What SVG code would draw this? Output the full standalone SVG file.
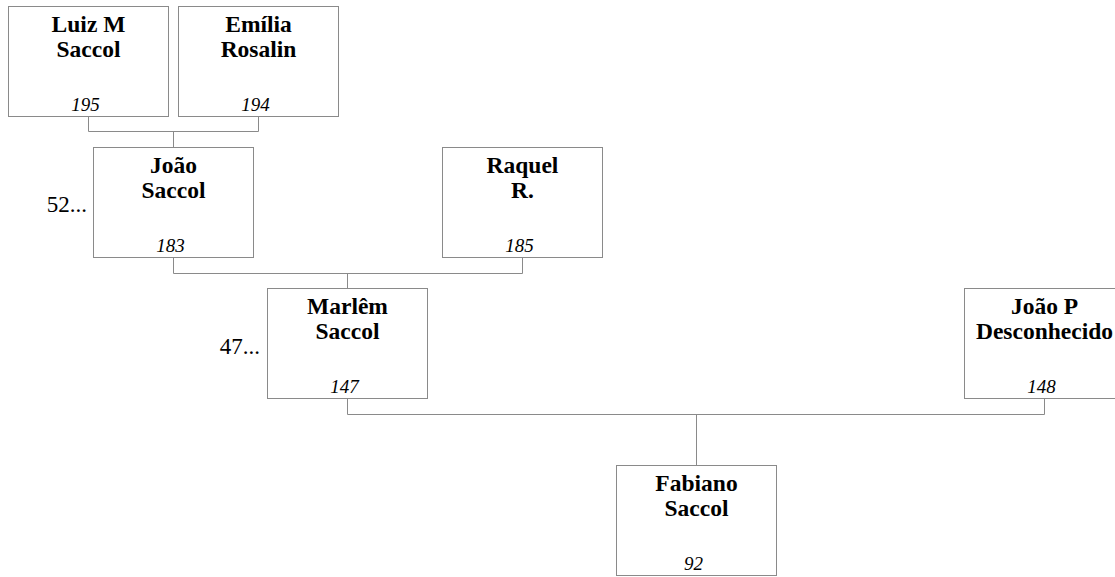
<svg xmlns="http://www.w3.org/2000/svg" width="1115" height="577" viewBox="0 0 1115 577">
<style>
.box{fill:#fff;stroke:#8a8a8a;stroke-width:1}
text{font-family:'Liberation Serif','Times New Roman','DejaVu Serif',serif}
.name{font-weight:bold;font-size:23.5px;text-anchor:middle;fill:#000}
.num{font-style:italic;font-size:19px;text-anchor:middle;fill:#000}
.more{font-size:23px;text-anchor:end;fill:#000}
.conn{fill:none;stroke:#8a8a8a;stroke-width:1}
</style>
<rect width="1115" height="577" fill="#fff"/>
<g id="connectors" class="conn">
<path d="M88.5 116.5V131.5H258.5V116.5M173.5 131.5V147.5"/>
<path d="M173.5 257.5V273.5H522.5V257.5M347.5 273.5V288.5"/>
<path d="M347.5 398.5V414.5H1044.5V398.5M696.5 414.5V465.5"/>
</g>
<g id="luiz">
<rect class="box" x="8.5" y="6.5" width="160" height="110"/>
<text class="name" x="88.5" y="32">Luiz M</text>
<text class="name" x="88.5" y="56.5">Saccol</text>
<text class="num" x="85.5" y="111">195</text>
</g>
<g id="emilia">
<rect class="box" x="178.5" y="6.5" width="160" height="110"/>
<text class="name" x="258.5" y="32">Emília</text>
<text class="name" x="258.5" y="56.5">Rosalin</text>
<text class="num" x="255.5" y="111">194</text>
</g>
<g id="joao">
<rect class="box" x="93.5" y="147.5" width="160" height="110"/>
<text class="name" x="173.5" y="173">João</text>
<text class="name" x="173.5" y="197.5">Saccol</text>
<text class="num" x="170.5" y="252">183</text>
<text class="more" x="87" y="212">52...</text>
</g>
<g id="raquel">
<rect class="box" x="442.5" y="147.5" width="160" height="110"/>
<text class="name" x="522.5" y="173">Raquel</text>
<text class="name" x="522.5" y="197.5">R.</text>
<text class="num" x="519.5" y="252">185</text>
</g>
<g id="marlem">
<rect class="box" x="267.5" y="288.5" width="160" height="110"/>
<text class="name" x="347.5" y="314">Marlêm</text>
<text class="name" x="347.5" y="338.5">Saccol</text>
<text class="num" x="344.5" y="393">147</text>
<text class="more" x="260" y="354">47...</text>
</g>
<g id="joaop">
<rect class="box" x="964.5" y="288.5" width="160" height="110"/>
<text class="name" x="1044.5" y="314">João P</text>
<text class="name" x="1044.5" y="338.5">Desconhecido</text>
<text class="num" x="1041.5" y="393">148</text>
</g>
<g id="fabiano">
<rect class="box" x="616.5" y="465.5" width="160" height="110"/>
<text class="name" x="696.5" y="491">Fabiano</text>
<text class="name" x="696.5" y="515.5">Saccol</text>
<text class="num" x="693.5" y="570">92</text>
</g>
</svg>
